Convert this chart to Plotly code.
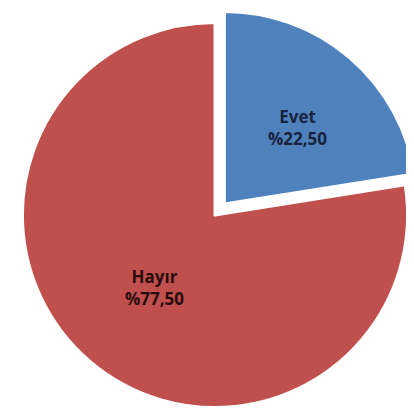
import plotly.graph_objects as go

labels = ["Evet", "Hayır"]
values = [22.5, 77.5]
text_labels = ["Evet<br>%22,50", "Hayır<br>%77,50"]
colors = ["#4F81BD", "#C0504D"]
text_colors = ["#18233d", "#2a0c0c"]
pulls = [0.075, 0]
# label anchor positions (paper fractions)
label_x = [0.700, 0.353]
label_y = [0.711, 0.325]

fig = go.Figure(go.Pie(
    labels=labels,
    values=values,
    textinfo="none",
    sort=False,
    direction="clockwise",
    rotation=0,
    pull=pulls,
    marker=dict(colors=colors, line=dict(color="#FFFFFF", width=3)),
    showlegend=False,
    domain=dict(x=[0, 1], y=[0, 1]),
    hoverinfo="label+percent",
))

for t, c, x, y in zip(text_labels, text_colors, label_x, label_y):
    fig.add_annotation(
        text="<b>" + t + "</b>", x=x, y=y, xref="paper", yref="paper",
        showarrow=False, xanchor="center", yanchor="middle",
        font=dict(family="Open Sans", size=17, color=c),
    )

fig.update_layout(
    width=414, height=414,
    margin=dict(l=0, r=0, t=0, b=0),
    paper_bgcolor="white",
    plot_bgcolor="white",
    showlegend=False,
)

fig.write_html("out.html")
